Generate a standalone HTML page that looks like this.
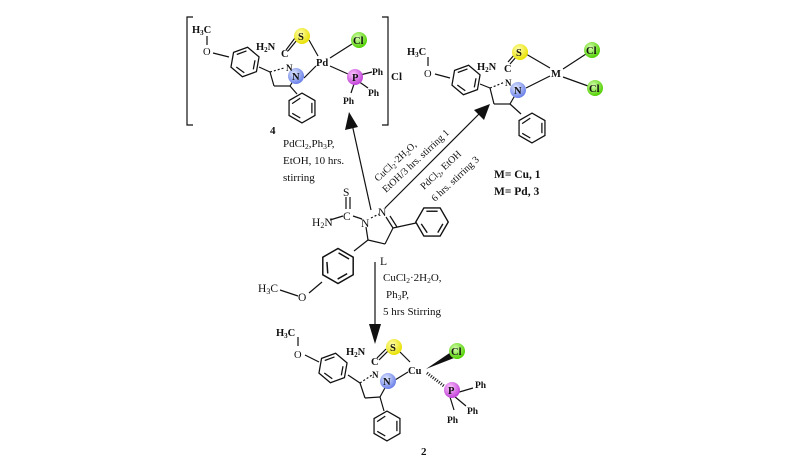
<!DOCTYPE html>
<html><head><meta charset="utf-8"><style>
html,body{margin:0;padding:0;background:#fff;}
svg{display:block;}
text{font-family:"Liberation Serif",serif;fill:#111;}
.b{font-weight:bold;}
</style></head><body>
<svg width="792" height="473" viewBox="0 0 792 473" xmlns="http://www.w3.org/2000/svg">
<defs>
<g id="hx" fill="none" stroke="#111" stroke-width="1.1">
<polygon points="13,0 6.5,11.26 -6.5,11.26 -13,0 -6.5,-11.26 6.5,-11.26"/>
<line x1="8.7" y1="1.5" x2="4.6" y2="8.5"/>
<line x1="-3.8" y1="8.6" x2="-8.6" y2="1.5"/>
<line x1="-4.5" y1="-8.6" x2="4.5" y2="-8.6"/>
</g>
<radialGradient id="gy" cx="40%" cy="35%" r="65%"><stop offset="0" stop-color="#ffffb0"/><stop offset="1" stop-color="#e8e000"/></radialGradient>
<radialGradient id="gg" cx="40%" cy="35%" r="65%"><stop offset="0" stop-color="#d8ffb0"/><stop offset="1" stop-color="#50d000"/></radialGradient>
<radialGradient id="gb" cx="40%" cy="35%" r="65%"><stop offset="0" stop-color="#e0e8ff"/><stop offset="1" stop-color="#6a80e8"/></radialGradient>
<radialGradient id="gp" cx="40%" cy="35%" r="65%"><stop offset="0" stop-color="#ffc8ff"/><stop offset="1" stop-color="#c040d8"/></radialGradient>
</defs>

<g stroke="#111" stroke-width="1.2" fill="none">
<!-- ===== complex 4 ===== -->
<polyline points="193,17 187,17 187,125 193,125"/>
<polyline points="382,17 388,17 388,125 382,125"/>
<line x1="207" y1="36" x2="207" y2="45"/>
<line x1="213" y1="53" x2="229" y2="57"/>
<line x1="259" y1="67" x2="270" y2="72"/>
<line x1="270" y1="72" x2="274" y2="86"/>
<line x1="274" y1="86" x2="290" y2="86"/>
<line x1="290" y1="86" x2="296" y2="76"/>
<line x1="270" y1="72" x2="284" y2="68" stroke-dasharray="2,2"/>
<line x1="290" y1="86" x2="297" y2="94"/>
<line x1="304" y1="78" x2="316" y2="66"/>
<line x1="309" y1="40" x2="318" y2="56"/>
<line x1="330" y1="58" x2="352" y2="44"/>
<line x1="330" y1="66" x2="348" y2="74"/>
<line x1="288" y1="51" x2="297" y2="40"/>
<line x1="286" y1="50" x2="295" y2="38"/>
<line x1="360" y1="75" x2="372" y2="72"/>
<line x1="358" y1="81" x2="368" y2="88"/>
<line x1="354" y1="84" x2="351" y2="93"/>

<!-- ===== complex 1/3 ===== -->
<line x1="428" y1="57" x2="428" y2="66"/>
<line x1="435" y1="74" x2="450" y2="78"/>
<line x1="480" y1="84" x2="490" y2="88"/>
<line x1="490" y1="88" x2="494" y2="104"/>
<line x1="494" y1="104" x2="510" y2="104"/>
<line x1="510" y1="104" x2="518" y2="90"/>
<line x1="490" y1="88" x2="505" y2="82" stroke-dasharray="2,2"/>
<line x1="510" y1="104" x2="521" y2="114"/>
<line x1="526" y1="88" x2="550" y2="76"/>
<line x1="526" y1="54" x2="550" y2="68"/>
<line x1="563" y1="69" x2="586" y2="54"/>
<line x1="563" y1="77" x2="588" y2="86"/>
<line x1="510" y1="64" x2="517" y2="56"/>
<line x1="508" y1="62" x2="515" y2="54"/>

<!-- ===== ligand L ===== -->
<line x1="346" y1="197" x2="346" y2="209"/>
<line x1="350" y1="197" x2="350" y2="209"/>
<line x1="330" y1="220" x2="343" y2="216"/>
<line x1="353" y1="216" x2="362" y2="219"/>
<line x1="371" y1="218" x2="379" y2="214" stroke-dasharray="2,2"/>
<line x1="386" y1="217" x2="393" y2="228"/>
<line x1="390" y1="216" x2="397" y2="227"/>
<line x1="393" y1="228" x2="385" y2="244"/>
<line x1="385" y1="244" x2="368" y2="240"/>
<line x1="368" y1="240" x2="366" y2="227"/>
<line x1="393" y1="228" x2="416" y2="223"/>
<line x1="368" y1="240" x2="354" y2="251"/>
<line x1="322" y1="282" x2="309" y2="293"/>
<line x1="298" y1="296" x2="280" y2="290"/>

<!-- ===== complex 2 ===== -->
<line x1="298" y1="337" x2="298" y2="346"/>
<line x1="305" y1="355" x2="319" y2="362"/>
<line x1="348" y1="375" x2="360" y2="383"/>
<line x1="360" y1="383" x2="365" y2="398"/>
<line x1="365" y1="398" x2="380" y2="397"/>
<line x1="380" y1="397" x2="386" y2="386"/>
<line x1="360" y1="383" x2="372" y2="375" stroke-dasharray="2,2"/>
<line x1="380" y1="397" x2="384" y2="411"/>
<line x1="395" y1="380" x2="408" y2="372"/>
<line x1="400" y1="352" x2="410" y2="362"/>
<line x1="377" y1="358" x2="386" y2="349"/>
<line x1="379" y1="360" x2="388" y2="351"/>
<line x1="456" y1="393" x2="473" y2="388"/>
<line x1="454" y1="396" x2="466" y2="406"/>
<line x1="450" y1="397" x2="454" y2="410"/>
<line x1="427" y1="373" x2="444" y2="386" stroke-dasharray="1,1.5" stroke-width="3"/>

<!-- ===== arrows ===== -->
<line x1="371" y1="210" x2="352" y2="124"/>
<line x1="385" y1="208" x2="480" y2="113"/>
<line x1="375" y1="262" x2="375" y2="326"/>
</g>
<polygon points="426,369 451,352 454,358" fill="#111"/>
<polygon points="349,112 345,130 358,127" fill="#111"/>
<polygon points="490,104 474,110 484,120" fill="#111"/>
<polygon points="375,344 369,324 381,324" fill="#111"/>

<!-- rings -->
<use href="#hx" transform="translate(245,62) rotate(-20) scale(1.15)"/>
<use href="#hx" transform="translate(302,108) rotate(90) scale(1.15)"/>
<use href="#hx" transform="translate(466,80) rotate(-20) scale(1.15)"/>
<use href="#hx" transform="translate(532,128) rotate(90) scale(1.15)"/>
<use href="#hx" transform="translate(432,222) scale(1.25)"/>
<use href="#hx" transform="translate(338,266) rotate(30) scale(1.35)"/>
<use href="#hx" transform="translate(333,368) rotate(-20) scale(1.15)"/>
<use href="#hx" transform="translate(387,426) rotate(90) scale(1.15)"/>

<!-- balls -->
<circle cx="302" cy="36" r="8" fill="url(#gy)"/>
<circle cx="359" cy="40" r="8" fill="url(#gg)"/>
<circle cx="296" cy="76" r="8" fill="url(#gb)"/>
<circle cx="355" cy="77" r="8" fill="url(#gp)"/>
<circle cx="520" cy="52" r="8" fill="url(#gy)"/>
<circle cx="592" cy="50" r="8" fill="url(#gg)"/>
<circle cx="595" cy="88" r="8" fill="url(#gg)"/>
<circle cx="518" cy="90" r="8" fill="url(#gb)"/>
<circle cx="394" cy="347" r="8" fill="url(#gy)"/>
<circle cx="457" cy="351" r="8" fill="url(#gg)"/>
<circle cx="388" cy="381" r="8" fill="url(#gb)"/>
<circle cx="452" cy="390" r="8" fill="url(#gp)"/>

<g font-size="10.5">
<text x="192" y="33" class="b">H<tspan font-size="7" dy="2">3</tspan><tspan dy="-2">C</tspan></text>
<text x="203" y="55">O</text>
<text x="256" y="50" class="b">H<tspan font-size="7" dy="2">2</tspan><tspan dy="-2">N</tspan></text>
<text x="281" y="57" class="b">C</text>
<text x="286" y="71" class="b" font-size="9">N</text>
<text x="298" y="40" class="b">S</text>
<text x="353" y="44" class="b">Cl</text>
<text x="292" y="80" class="b">N</text>
<text x="316" y="66" class="b">Pd</text>
<text x="352" y="81" class="b">P</text>
<text x="372" y="75" class="b" font-size="9.5">Ph</text>
<text x="368" y="96" class="b" font-size="9.5">Ph</text>
<text x="343" y="104" class="b" font-size="9.5">Ph</text>
<text x="391" y="80" class="b" font-size="11">Cl</text>
<text x="270" y="134" class="b" font-size="11">4</text>
</g>
<g font-size="10.5">
<text x="407" y="55" class="b">H<tspan font-size="7" dy="2">3</tspan><tspan dy="-2">C</tspan></text>
<text x="424" y="77">O</text>
<text x="477" y="70" class="b">H<tspan font-size="7" dy="2">2</tspan><tspan dy="-2">N</tspan></text>
<text x="504" y="72" class="b">C</text>
<text x="505" y="86" class="b" font-size="9">N</text>
<text x="516" y="56" class="b">S</text>
<text x="586" y="54" class="b">Cl</text>
<text x="551" y="77" class="b">M</text>
<text x="589" y="92" class="b">Cl</text>
<text x="514" y="94" class="b">N</text>
<text x="494" y="178" class="b" font-size="11.5">M= Cu, 1</text>
<text x="494" y="195" class="b" font-size="11.5">M= Pd, 3</text>
</g>
<g font-size="11.5">
<text x="343" y="196">S</text>
<text x="343" y="220">C</text>
<text x="312" y="226">H<tspan font-size="8" dy="2">2</tspan><tspan dy="-2">N</tspan></text>
<text x="361" y="227">N</text>
<text x="378" y="216">N</text>
<text x="298" y="301">O</text>
<text x="258" y="292">H<tspan font-size="8" dy="2">3</tspan><tspan dy="-2">C</tspan></text>
<text x="380" y="265">L</text>
</g>
<g font-size="10.5">
<text x="276" y="336" class="b">H<tspan font-size="7" dy="2">3</tspan><tspan dy="-2">C</tspan></text>
<text x="294" y="358">O</text>
<text x="346" y="355" class="b">H<tspan font-size="7" dy="2">2</tspan><tspan dy="-2">N</tspan></text>
<text x="371" y="365" class="b">C</text>
<text x="372" y="378" class="b" font-size="9">N</text>
<text x="390" y="351" class="b">S</text>
<text x="451" y="355" class="b">Cl</text>
<text x="408" y="374" class="b">Cu</text>
<text x="383" y="385" class="b">N</text>
<text x="448" y="394" class="b">P</text>
<text x="475" y="388" class="b" font-size="9.5">Ph</text>
<text x="467" y="414" class="b" font-size="9.5">Ph</text>
<text x="447" y="423" class="b" font-size="9.5">Ph</text>
<text x="421" y="455" class="b" font-size="11">2</text>
</g>
<g font-size="11">
<text x="283" y="147">PdCl<tspan font-size="7.5" dy="2">2</tspan><tspan dy="-2">,Ph</tspan><tspan font-size="7.5" dy="2">3</tspan><tspan dy="-2">P,</tspan></text>
<text x="283" y="164">EtOH, 10 hrs.</text>
<text x="283" y="181">stirring</text>
<text x="383" y="281">CuCl<tspan font-size="7.5" dy="2">2</tspan><tspan dy="-2">·2H</tspan><tspan font-size="7.5" dy="2">2</tspan><tspan dy="-2">O,</tspan></text>
<text x="386" y="298">Ph<tspan font-size="7.5" dy="2">3</tspan><tspan dy="-2">P,</tspan></text>
<text x="383" y="315">5 hrs Stirring</text>
</g>
<g font-size="10">
<text transform="translate(378,182) rotate(-43)">CuCl<tspan font-size="7" dy="2">2</tspan><tspan dy="-2">·2H</tspan><tspan font-size="7" dy="2">2</tspan><tspan dy="-2">O,</tspan></text>
<text transform="translate(386,193) rotate(-43)">EtOH/3 hrs. stirring 1</text>
<text transform="translate(424,190) rotate(-43)">PdCl<tspan font-size="7" dy="2">2</tspan><tspan dy="-2">, EtOH</tspan></text>
<text transform="translate(435,202) rotate(-43)">6 hrs. stirring 3</text>
</g>
</svg>
</body></html>
